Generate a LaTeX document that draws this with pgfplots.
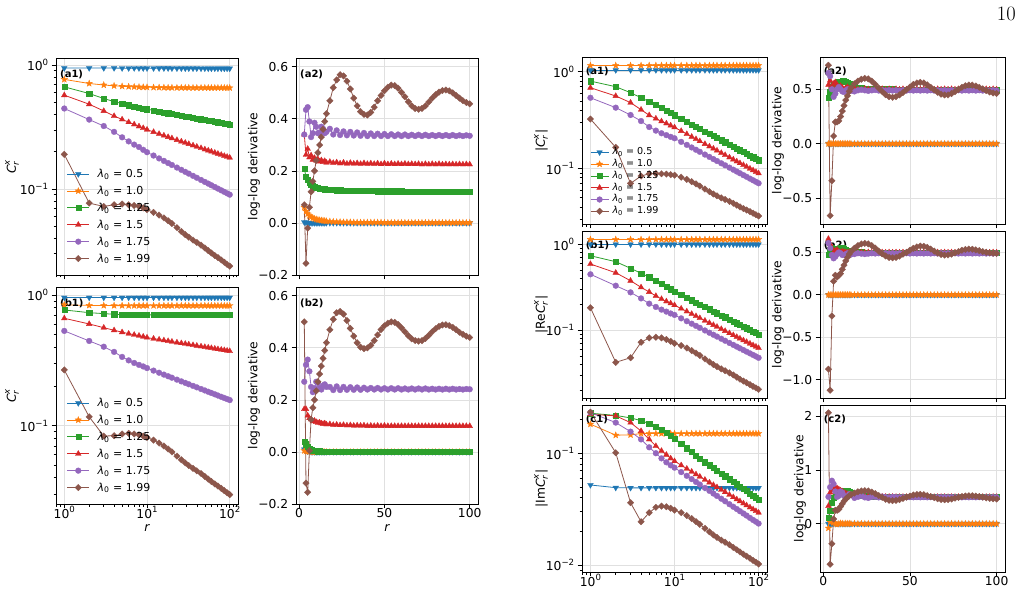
\documentclass[border=0pt]{standalone}
\usepackage{amsmath}
\usepackage{fontspec}
\usepackage{pgfplots}
\usepackage{pgfplotstable}
\pgfplotsset{compat=1.18}
\usetikzlibrary{plotmarks}
\newfontfamily\dv{DejaVu Sans}[ItalicFont={DejaVu Sans Oblique},BoldFont={DejaVu Sans Bold}]
\definecolor{c0}{HTML}{1F77B4}
\definecolor{c1}{HTML}{FF7F0E}
\definecolor{c2}{HTML}{2CA02C}
\definecolor{c3}{HTML}{D62728}
\definecolor{c4}{HTML}{9467BD}
\definecolor{c5}{HTML}{8C564B}
\newcommand\tkf{\dv\fontsize{12.3}{14}\selectfont}
\newcommand\lgf{\dv\fontsize{11}{13}\selectfont}
\newcommand\lgs{\dv\fontsize{9.6}{11}\selectfont}
\newcommand\pnf{\dv\bfseries\fontsize{10}{11}\selectfont}
\newcommand\tpow[1]{10\raisebox{0.45em}{\fontsize{8.6}{9}\selectfont #1}}
\newcommand\lam[2]{{#1{\itshape λ}\textsubscript{0} = #2}}
\newcommand\Crx{$\text{\itshape C}^{\text{\itshape x}}_{\text{\itshape r}}$}
\pgfdeclareplotmark{fstar}{%
  \pgfpathmoveto{\pgfpointpolar{90}{\pgfplotmarksize}}%
  \pgfpathlineto{\pgfpointpolar{126}{0.42\pgfplotmarksize}}%
  \pgfpathlineto{\pgfpointpolar{162}{\pgfplotmarksize}}%
  \pgfpathlineto{\pgfpointpolar{198}{0.42\pgfplotmarksize}}%
  \pgfpathlineto{\pgfpointpolar{234}{\pgfplotmarksize}}%
  \pgfpathlineto{\pgfpointpolar{270}{0.42\pgfplotmarksize}}%
  \pgfpathlineto{\pgfpointpolar{306}{\pgfplotmarksize}}%
  \pgfpathlineto{\pgfpointpolar{342}{0.42\pgfplotmarksize}}%
  \pgfpathlineto{\pgfpointpolar{18}{\pgfplotmarksize}}%
  \pgfpathlineto{\pgfpointpolar{54}{0.42\pgfplotmarksize}}%
  \pgfpathclose\pgfusepathqfillstroke}
\pgfplotsset{
  mySb/.style={color=c0, line width=0.8pt, mark=triangle*, mark size=3.3pt, mark options={solid, rotate=180, line width=0.3pt}},
  mySo/.style={color=c1, line width=0.8pt, mark=fstar, mark size=3.4pt, mark options={solid, line width=0.3pt}},
  mySg/.style={color=c2, line width=0.8pt, mark=square*, mark size=2.6pt, mark options={solid, line width=0.3pt}},
  mySr/.style={color=c3, line width=0.8pt, mark=triangle*, mark size=3.3pt, mark options={solid, line width=0.3pt}},
  mySp/.style={color=c4, line width=0.8pt, mark=*, mark size=2.9pt, mark options={solid, line width=0.3pt}},
  mySd/.style={color=c5, line width=0.8pt, mark=square*, mark size=2.3pt, mark options={solid, rotate=45, line width=0.3pt}},
  myBase/.style={scale only axis, axis line style={line width=0.9pt, black},
    tick align=outside, xtick pos=left, ytick pos=left,
    major tick length=4.3pt, minor tick length=2.5pt,
    every tick/.style={black, line width=0.8pt},
    every minor tick/.style={black, line width=0.6pt},
    grid=major, major grid style={line width=0.8pt, black!12},
    tick label style={font=\tkf}, label style={font=\tkf},
    legend cell align=left},
  myLogX/.style={xmin=0.794, xmax=125.9, xtick={1,10,100},
    minor xtick={0.8,0.9,2,3,4,5,6,7,8,9,20,30,40,50,60,70,80,90,110,120},
    xticklabel style={yshift=5.5pt}},
  myLinX/.style={xmin=-1.85, xmax=104.85, xtick={0,50,100}, xticklabel style={yshift=3pt}},
  myLegL/.style={legend image code/.code={\draw[mark repeat=2,mark phase=2,##1] plot coordinates {(0pt,0pt) (11pt,0pt) (22pt,0pt)};},
    legend style={at={(axis description cs:0,1)}, anchor=north west, xshift=10.7pt, yshift=-107.4pt,
      draw=none, fill=none, inner sep=0pt, column sep=8pt, row sep=0pt,
      nodes={inner sep=0pt, text height=11.9pt, text depth=5pt}}},
  myLegR/.style={legend image code/.code={\draw[mark repeat=2,mark phase=2,##1] plot coordinates {(0pt,0pt) (9pt,0pt) (18pt,0pt)};},
    legend style={at={(axis description cs:0,1)}, anchor=north west, xshift=8pt, yshift=-89.2pt,
      draw=none, fill=none, inner sep=0pt, column sep=3.5pt, row sep=0pt,
      nodes={inner sep=0pt, text height=8.3pt, text depth=3.5pt}}},
}
\newcommand\six[1]{%
  \addplot[mySb] table[x=r,y=b]{#1};
  \addplot[mySo] table[x=r,y=o]{#1};
  \addplot[mySg] table[x=r,y=g]{#1};
  \addplot[mySr] table[x=r,y=rd]{#1};
  \addplot[mySp] table[x=r,y=p]{#1};
  \addplot[mySd] table[x=r,y=br]{#1};}
\newcommand\leg[1]{\legend{\lam{#1}{0.5},\lam{#1}{1.0},\lam{#1}{1.25},\lam{#1}{1.5},\lam{#1}{1.75},\lam{#1}{1.99}}}

\pgfplotstableread{
r b o g rd p br
1 0.945 0.766 0.667 0.571 0.446 0.190
2 0.945 0.710 0.589 0.483 0.363 0.0769
3 0.945 0.690 0.537 0.426 0.322 0.0722
4 0.945 0.680 0.507 0.388 0.289 0.0746
5 0.944 0.674 0.489 0.364 0.261 0.0755
6 0.944 0.670 0.475 0.346 0.242 0.0745
7 0.944 0.667 0.464 0.332 0.228 0.0735
8 0.944 0.665 0.455 0.320 0.218 0.0722
9 0.943 0.663 0.448 0.310 0.207 0.0703
10 0.943 0.662 0.441 0.301 0.198 0.0680
12 0.943 0.660 0.4304 0.2884 0.1860 0.0647
14 0.942 0.659 0.4218 0.2783 0.1764 0.0615
16 0.942 0.658 0.4146 0.2699 0.1685 0.0584
18 0.942 0.657 0.4086 0.2628 0.1618 0.0554
20 0.941 0.657 0.4033 0.2565 0.1561 0.0526
23 0.941 0.656 0.3964 0.2485 0.1488 0.0487
26 0.941 0.656 0.3906 0.2416 0.1427 0.0454
29 0.940 0.656 0.3854 0.2359 0.1374 0.0428
32 0.940 0.656 0.3809 0.2306 0.1329 0.0408
36 0.940 0.655 0.3755 0.2246 0.1276 0.0387
40 0.940 0.655 0.3709 0.2194 0.1231 0.0370
45 0.939 0.655 0.3657 0.2137 0.1182 0.0352
50 0.939 0.655 0.3611 0.2087 0.1140 0.0334
55 0.939 0.655 0.3570 0.2043 0.1104 0.0318
60 0.939 0.655 0.3533 0.2004 0.1071 0.0304
66 0.939 0.655 0.3494 0.1962 0.1037 0.0290
72 0.938 0.655 0.3458 0.1924 0.1006 0.0279
79 0.938 0.655 0.3421 0.1885 0.0975 0.0267
86 0.938 0.655 0.3387 0.1849 0.0947 0.0256
93 0.938 0.655 0.3356 0.1817 0.0922 0.0246
100 0.938 0.655 0.3327 0.1789 0.0899 0.0238
}\tLA

\pgfplotstableread{
r b o g rd p br
1 0.955 0.840 0.768 0.663 0.531 0.267
2 0.955 0.832 0.732 0.600 0.445 0.117
3 0.955 0.830 0.720 0.562 0.402 0.0834
4 0.955 0.829 0.712 0.537 0.367 0.0839
5 0.955 0.829 0.708 0.519 0.336 0.0865
6 0.955 0.828 0.706 0.506 0.316 0.0875
7 0.955 0.828 0.705 0.496 0.302 0.0865
8 0.955 0.828 0.704 0.488 0.292 0.0850
9 0.955 0.828 0.704 0.480 0.284 0.0833
10 0.955 0.828 0.704 0.472 0.276 0.0815
12 0.955 0.828 0.704 0.4632 0.2639 0.0776
14 0.955 0.828 0.704 0.4559 0.2542 0.0737
16 0.955 0.828 0.704 0.4497 0.2460 0.0700
18 0.955 0.828 0.704 0.4443 0.2390 0.0664
20 0.955 0.828 0.704 0.4395 0.2329 0.0631
23 0.955 0.828 0.704 0.4332 0.2251 0.0586
26 0.955 0.828 0.704 0.4278 0.2184 0.0549
29 0.955 0.828 0.704 0.4230 0.2127 0.0519
32 0.955 0.828 0.704 0.4187 0.2076 0.0496
36 0.955 0.828 0.704 0.4137 0.2017 0.0472
40 0.955 0.828 0.704 0.4092 0.1966 0.0452
45 0.955 0.828 0.704 0.4043 0.1910 0.0431
50 0.955 0.828 0.704 0.3999 0.1861 0.0410
55 0.955 0.828 0.704 0.3960 0.1818 0.0391
60 0.955 0.828 0.704 0.3925 0.1780 0.0375
66 0.955 0.828 0.704 0.3886 0.1739 0.0359
72 0.955 0.828 0.704 0.3852 0.1702 0.0346
79 0.955 0.828 0.704 0.3815 0.1664 0.0332
86 0.955 0.828 0.704 0.3782 0.1630 0.0319
93 0.955 0.828 0.704 0.3752 0.1599 0.0307
100 0.955 0.828 0.704 0.3724 0.1571 0.0297
}\tLB

\pgfplotstableread{
r b o g rd p br
1 1.04 1.16 0.800 0.683 0.538 0.324
2 1.04 1.16 0.700 0.561 0.425 0.165
3 1.04 1.16 0.607 0.479 0.357 0.0700
4 1.04 1.16 0.538 0.405 0.309 0.0834
5 1.04 1.16 0.490 0.355 0.268 0.0880
6 1.04 1.16 0.453 0.328 0.246 0.0885
7 1.04 1.16 0.422 0.307 0.231 0.0880
8 1.04 1.16 0.397 0.292 0.221 0.0873
9 1.04 1.16 0.375 0.278 0.212 0.0862
10 1.04 1.16 0.356 0.266 0.205 0.0850
12 1.04 1.16 0.3271 0.2439 0.1883 0.0811
14 1.04 1.16 0.3044 0.2266 0.1753 0.0770
16 1.04 1.16 0.2861 0.2126 0.1647 0.0729
18 1.04 1.16 0.2708 0.2010 0.1559 0.0691
20 1.04 1.16 0.2579 0.1912 0.1485 0.0657
23 1.04 1.16 0.2416 0.1789 0.1391 0.0612
26 1.04 1.16 0.2283 0.1688 0.1315 0.0575
29 1.04 1.16 0.2170 0.1603 0.1249 0.0544
32 1.04 1.16 0.2073 0.1530 0.1194 0.0521
36 1.04 1.16 0.1962 0.1446 0.1130 0.0496
40 1.04 1.16 0.1869 0.1375 0.1076 0.0477
45 1.04 1.16 0.1769 0.1300 0.1019 0.0456
50 1.04 1.16 0.1684 0.1237 0.0970 0.0436
55 1.04 1.16 0.1611 0.1182 0.0928 0.0417
60 1.04 1.16 0.1547 0.1134 0.0891 0.0400
66 1.04 1.16 0.1480 0.1084 0.0852 0.0384
72 1.04 1.16 0.1422 0.1040 0.0819 0.0371
79 1.04 1.16 0.1362 0.0995 0.0784 0.0357
86 1.04 1.16 0.1309 0.0956 0.0754 0.0344
93 1.04 1.16 0.1262 0.0921 0.0727 0.0332
100 1.04 1.16 0.1220 0.0889 0.0702 0.0322
}\tRA

\pgfplotstableread{
r b o g rd p br
1 1.0 1.14 0.736 0.589 0.447 0.182
2 1.0 1.14 0.627 0.466 0.329 0.042
3 1.0 1.14 0.525 0.376 0.275 0.0475
4 1.0 1.14 0.459 0.315 0.234 0.072
5 1.0 1.14 0.415 0.278 0.203 0.081
6 1.0 1.14 0.378 0.250 0.186 0.0825
7 1.0 1.14 0.347 0.230 0.173 0.081
8 1.0 1.14 0.322 0.216 0.164 0.0775
9 1.0 1.14 0.300 0.205 0.156 0.0738
10 1.0 1.14 0.282 0.195 0.150 0.0700
12 1.0 1.14 0.2574 0.1780 0.1369 0.0659
14 1.0 1.14 0.2383 0.1648 0.1268 0.0617
16 1.0 1.14 0.2229 0.1542 0.1186 0.0575
18 1.0 1.14 0.2102 0.1454 0.1118 0.0537
20 1.0 1.14 0.1994 0.1379 0.1061 0.0504
23 1.0 1.14 0.1860 0.1286 0.0989 0.0460
26 1.0 1.14 0.1749 0.1209 0.0930 0.0425
29 1.0 1.14 0.1656 0.1145 0.0881 0.0396
32 1.0 1.14 0.1576 0.1090 0.0839 0.0374
36 1.0 1.14 0.1486 0.1028 0.0791 0.0352
40 1.0 1.14 0.1410 0.0975 0.0750 0.0335
45 1.0 1.14 0.1329 0.0919 0.0707 0.0316
50 1.0 1.14 0.1261 0.0872 0.0671 0.0299
55 1.0 1.14 0.1202 0.0831 0.0640 0.0282
60 1.0 1.14 0.1151 0.0796 0.0612 0.0267
66 1.0 1.14 0.1098 0.0759 0.0584 0.0254
72 1.0 1.14 0.1051 0.0727 0.0559 0.0243
79 1.0 1.14 0.1003 0.0694 0.0534 0.0231
86 1.0 1.14 0.0962 0.0665 0.0512 0.0220
93 1.0 1.14 0.0925 0.0640 0.0492 0.0211
100 1.0 1.14 0.0892 0.0617 0.0474 0.0203
}\tRB

\pgfplotstableread{
r b o g rd p br
1 0.052 0.182 0.228 0.223 0.231 0.233
2 0.0492 0.145 0.218 0.216 0.188 0.101
3 0.049 0.146 0.207 0.188 0.156 0.0361
4 0.049 0.150 0.196 0.158 0.133 0.0244
5 0.049 0.150 0.184 0.133 0.113 0.0294
6 0.049 0.150 0.173 0.116 0.100 0.0328
7 0.049 0.150 0.162 0.105 0.090 0.0337
8 0.049 0.150 0.153 0.097 0.083 0.0332
9 0.049 0.150 0.144 0.090 0.078 0.0322
10 0.049 0.150 0.136 0.085 0.0743 0.0310
12 0.049 0.150 0.1219 0.0781 0.0678 0.0294
14 0.049 0.150 0.1111 0.0728 0.0628 0.0277
16 0.049 0.150 0.1026 0.0684 0.0587 0.0260
18 0.049 0.150 0.0956 0.0648 0.0554 0.0245
20 0.049 0.150 0.0897 0.0618 0.0525 0.0231
23 0.049 0.150 0.0834 0.0579 0.0490 0.0213
26 0.049 0.150 0.0782 0.0547 0.0461 0.0198
29 0.049 0.150 0.0739 0.0520 0.0436 0.0186
32 0.049 0.150 0.0702 0.0497 0.0415 0.0177
36 0.049 0.150 0.0660 0.0471 0.0392 0.0167
40 0.049 0.150 0.0625 0.0449 0.0372 0.0160
45 0.049 0.150 0.0587 0.0425 0.0350 0.0152
50 0.049 0.150 0.0556 0.0405 0.0332 0.0144
55 0.049 0.150 0.0529 0.0387 0.0317 0.0137
60 0.049 0.150 0.0506 0.0372 0.0303 0.0131
66 0.049 0.150 0.0481 0.0356 0.0289 0.0125
72 0.049 0.150 0.0460 0.0342 0.0277 0.0120
79 0.049 0.150 0.0438 0.0328 0.0264 0.0115
86 0.049 0.150 0.0419 0.0315 0.0253 0.0110
93 0.049 0.150 0.0402 0.0304 0.0244 0.0106
100 0.049 0.150 0.0387 0.0294 0.0235 0.0102
}\tRC

\pgfplotstableread{
r b o g rd p br
3 0.003 0.060 0.210 0.340 0.340 0.070
4 0.002 0.045 0.178 0.262 0.435 -0.155
5 0.001 0.035 0.165 0.285 0.445 -0.020
6 0 0.028 0.155 0.252 0.390 0.060
7 0 0.023 0.148 0.260 0.330 0.120
8 0 0.019 0.143 0.243 0.345 0.160
9 0 0.016 0.140 0.250 0.385 0.200
10 0 0.014 0.137 0.240 0.370 0.240
11 0 0.012 0.135 0.245 0.345 0.270
12 0 0.011 0.133 0.236 0.348 0.300
13 0 0.010 0.132 0.241 0.370 0.330
14 0 0.009 0.131 0.234 0.362 0.360
15 0 0.008 0.130 0.238 0.345 0.390
16 0 0.007 0.129 0.232 0.350 0.420
18 0 0.006 0.128 0.235 0.362 0.470
20 0 0.005 0.127 0.231 0.340 0.520
22 0 0.004 0.126 0.233 0.356 0.550
24 0 0.004 0.126 0.229 0.338 0.570
26 0 0.003 0.125 0.232 0.352 0.565
28 0 0.003 0.125 0.228 0.337 0.545
30 0 0.003 0.124 0.231 0.350 0.515
32 0 0.002 0.124 0.228 0.336 0.480
34 0 0.002 0.124 0.230 0.348 0.450
36 0 0.002 0.123 0.227 0.335 0.428
38 0 0.002 0.123 0.230 0.346 0.417
40 0 0.002 0.123 0.227 0.334 0.415
42 0 0.002 0.123 0.229 0.344 0.425
44 0 0.002 0.123 0.227 0.334 0.445
46 0 0.002 0.122 0.229 0.343 0.470
48 0 0.002 0.122 0.226 0.334 0.490
50 0 0.001 0.122 0.229 0.342 0.508
52 0 0.001 0.122 0.226 0.334 0.522
54 0 0.001 0.122 0.228 0.341 0.530
56 0 0.001 0.122 0.226 0.334 0.528
58 0 0.001 0.122 0.228 0.340 0.518
60 0 0.001 0.122 0.226 0.334 0.502
62 0 0.001 0.121 0.228 0.340 0.485
64 0 0.001 0.121 0.226 0.334 0.466
66 0 0.001 0.121 0.227 0.339 0.450
68 0 0.001 0.121 0.226 0.334 0.440
70 0 0.001 0.121 0.227 0.339 0.437
72 0 0.001 0.121 0.225 0.334 0.440
74 0 0.001 0.121 0.227 0.339 0.450
76 0 0.001 0.121 0.225 0.334 0.465
78 0 0.001 0.121 0.227 0.338 0.480
80 0 0.001 0.121 0.225 0.334 0.493
82 0 0.001 0.121 0.227 0.338 0.503
84 0 0.001 0.121 0.225 0.334 0.509
86 0 0.001 0.121 0.226 0.338 0.511
88 0 0.001 0.121 0.225 0.334 0.508
90 0 0.001 0.121 0.226 0.338 0.500
92 0 0.001 0.121 0.225 0.334 0.490
94 0 0.001 0.121 0.226 0.337 0.480
96 0 0.001 0.121 0.225 0.334 0.470
98 0 0.001 0.121 0.226 0.337 0.463
100 0 0.001 0.121 0.225 0.335 0.458
}\tLAd

\pgfplotstableread{
r b o g rd p br
3 0.010 0.005 0.040 0.165 0.270 0.500
4 0.005 0.003 0.030 0.165 0.335 -0.120
5 0.002 0.002 0.020 0.140 0.355 -0.155
6 0.001 0.001 0.012 0.130 0.310 0.005
7 0 0.001 0.008 0.125 0.250 0.125
8 0 0 0.006 0.118 0.230 0.170
9 0 0 0.005 0.120 0.245 0.200
10 0 0 0.004 0.115 0.270 0.235
11 0 0 0.003 0.112 0.265 0.270
12 0 0 0.003 0.113 0.245 0.300
13 0 0 0.002 0.110 0.240 0.330
14 0 0 0.002 0.108 0.255 0.360
15 0 0 0.002 0.110 0.260 0.390
16 0 0 0.002 0.106 0.250 0.420
18 0 0 0.001 0.107 0.250 0.470
20 0 0 0.001 0.104 0.238 0.510
22 0 0 0.001 0.105 0.252 0.535
24 0 0 0.001 0.103 0.238 0.540
26 0 0 0 0.104 0.250 0.530
28 0 0 0 0.102 0.239 0.505
30 0 0 0 0.103 0.249 0.475
32 0 0 0 0.101 0.239 0.445
34 0 0 0 0.102 0.248 0.420
36 0 0 0 0.101 0.239 0.403
38 0 0 0 0.102 0.247 0.397
40 0 0 0 0.100 0.240 0.400
42 0 0 0 0.101 0.246 0.410
44 0 0 0 0.100 0.240 0.428
46 0 0 0 0.101 0.246 0.450
48 0 0 0 0.100 0.240 0.470
50 0 0 0 0.101 0.245 0.485
52 0 0 0 0.100 0.240 0.495
54 0 0 0 0.100 0.245 0.500
56 0 0 0 0.100 0.240 0.498
58 0 0 0 0.100 0.245 0.490
60 0 0 0 0.100 0.240 0.477
62 0 0 0 0.100 0.244 0.462
64 0 0 0 0.100 0.240 0.447
66 0 0 0 0.100 0.244 0.435
68 0 0 0 0.100 0.240 0.428
70 0 0 0 0.100 0.244 0.426
72 0 0 0 0.100 0.240 0.428
74 0 0 0 0.100 0.244 0.436
76 0 0 0 0.100 0.240 0.448
78 0 0 0 0.100 0.243 0.462
80 0 0 0 0.100 0.240 0.474
82 0 0 0 0.100 0.243 0.483
84 0 0 0 0.100 0.240 0.488
86 0 0 0 0.100 0.243 0.489
88 0 0 0 0.100 0.240 0.486
90 0 0 0 0.100 0.243 0.479
92 0 0 0 0.100 0.240 0.470
94 0 0 0 0.100 0.242 0.460
96 0 0 0 0.100 0.240 0.452
98 0 0 0 0.100 0.242 0.445
100 0 0 0 0.100 0.241 0.440
}\tLBd

\pgfplotstableread{
r b o g rd p br
3 0 0 0.420 0.540 0.650 0.720
4 0 0 0.480 0.580 0.620 -0.660
5 0 0 0.520 0.520 0.500 -0.340
6 0 0 0.540 0.550 0.430 0.070
7 0 0 0.550 0.565 0.460 0.200
8 0 0 0.560 0.540 0.500 0.200
9 0 0 0.565 0.520 0.520 0.210
10 0 0 0.570 0.530 0.500 0.250
11 0 0 0.575 0.515 0.480 0.300
12 0 0 0.575 0.500 0.475 0.350
13 0 0 0.570 0.510 0.490 0.400
14 0 0 0.560 0.520 0.500 0.440
15 0 0 0.550 0.505 0.495 0.480
16 0 0 0.540 0.495 0.485 0.510
18 0 0 0.525 0.510 0.480 0.550
20 0 0 0.515 0.500 0.490 0.575
22 0 0 0.510 0.495 0.495 0.592
24 0 0 0.508 0.505 0.490 0.600
26 0 0 0.505 0.500 0.485 0.595
28 0 0 0.503 0.496 0.490 0.575
30 0 0 0.503 0.503 0.493 0.545
32 0 0 0.502 0.498 0.488 0.510
34 0 0 0.502 0.503 0.492 0.478
36 0 0 0.501 0.498 0.488 0.450
38 0 0 0.501 0.502 0.492 0.432
40 0 0 0.501 0.498 0.488 0.426
42 0 0 0.500 0.502 0.491 0.432
44 0 0 0.500 0.498 0.488 0.448
46 0 0 0.500 0.502 0.491 0.470
48 0 0 0.500 0.498 0.488 0.495
50 0 0 0.500 0.502 0.491 0.520
52 0 0 0.500 0.498 0.488 0.545
54 0 0 0.500 0.502 0.491 0.558
56 0 0 0.500 0.498 0.488 0.563
58 0 0 0.500 0.502 0.491 0.558
60 0 0 0.500 0.498 0.488 0.540
62 0 0 0.500 0.502 0.491 0.518
64 0 0 0.500 0.498 0.488 0.495
66 0 0 0.500 0.502 0.491 0.472
68 0 0 0.500 0.498 0.488 0.455
70 0 0 0.500 0.502 0.491 0.448
72 0 0 0.500 0.498 0.488 0.448
74 0 0 0.500 0.502 0.491 0.460
76 0 0 0.500 0.498 0.488 0.478
78 0 0 0.500 0.502 0.491 0.498
80 0 0 0.500 0.498 0.488 0.518
82 0 0 0.500 0.502 0.491 0.532
84 0 0 0.500 0.498 0.488 0.539
86 0 0 0.500 0.502 0.491 0.538
88 0 0 0.500 0.498 0.488 0.530
90 0 0 0.500 0.502 0.491 0.518
92 0 0 0.500 0.498 0.488 0.503
94 0 0 0.500 0.502 0.491 0.488
96 0 0 0.500 0.498 0.488 0.475
98 0 0 0.500 0.502 0.491 0.466
100 0 0 0.500 0.498 0.488 0.462
}\tRAd

\pgfplotstableread{
r b o g rd p br
3 0 0 0.470 0.660 0.610 -0.876
4 0 0 0.530 0.600 0.550 -1.124
5 0 0 0.550 0.550 0.470 -0.250
6 0 0 0.540 0.500 0.430 0.160
7 0 0 0.530 0.520 0.450 0.230
8 0 0 0.530 0.530 0.480 0.210
9 0 0 0.540 0.510 0.500 0.230
10 0 0 0.550 0.500 0.490 0.250
11 0 0 0.550 0.510 0.470 0.300
12 0 0 0.540 0.505 0.470 0.350
13 0 0 0.530 0.500 0.480 0.400
14 0 0 0.520 0.495 0.490 0.440
15 0 0 0.515 0.503 0.485 0.480
16 0 0 0.510 0.498 0.475 0.510
18 0 0 0.505 0.503 0.480 0.550
20 0 0 0.502 0.498 0.490 0.580
22 0 0 0.502 0.502 0.485 0.600
24 0 0 0.501 0.498 0.480 0.606
26 0 0 0.501 0.502 0.485 0.600
28 0 0 0.500 0.499 0.490 0.580
30 0 0 0.500 0.501 0.487 0.550
32 0 0 0.500 0.499 0.490 0.515
34 0 0 0.500 0.501 0.487 0.483
36 0 0 0.500 0.499 0.490 0.458
38 0 0 0.500 0.501 0.487 0.440
40 0 0 0.500 0.499 0.490 0.436
42 0 0 0.500 0.501 0.487 0.440
44 0 0 0.500 0.499 0.490 0.455
46 0 0 0.500 0.501 0.487 0.478
48 0 0 0.500 0.499 0.490 0.500
50 0 0 0.500 0.501 0.487 0.525
52 0 0 0.500 0.499 0.490 0.548
54 0 0 0.500 0.501 0.487 0.565
56 0 0 0.500 0.499 0.490 0.575
58 0 0 0.500 0.501 0.487 0.572
60 0 0 0.500 0.499 0.490 0.560
62 0 0 0.500 0.501 0.487 0.540
64 0 0 0.500 0.499 0.490 0.515
66 0 0 0.500 0.501 0.487 0.492
68 0 0 0.500 0.499 0.490 0.476
70 0 0 0.500 0.501 0.487 0.468
72 0 0 0.500 0.499 0.490 0.470
74 0 0 0.500 0.501 0.487 0.480
76 0 0 0.500 0.499 0.490 0.495
78 0 0 0.500 0.501 0.487 0.510
80 0 0 0.500 0.499 0.490 0.525
82 0 0 0.500 0.501 0.487 0.535
84 0 0 0.500 0.499 0.490 0.539
86 0 0 0.500 0.501 0.487 0.537
88 0 0 0.500 0.499 0.490 0.530
90 0 0 0.500 0.501 0.487 0.520
92 0 0 0.500 0.499 0.490 0.510
94 0 0 0.500 0.501 0.487 0.500
96 0 0 0.500 0.499 0.490 0.494
98 0 0 0.500 0.501 0.487 0.490
100 0 0 0.500 0.499 0.490 0.488
}\tRBd

\pgfplotstableread{
r b o g rd p br
3 0 -0.080 0.120 0.330 0.500 2.060
4 0 0.030 0.250 0.580 0.680 -0.750
5 0 0.060 0.400 0.620 0.800 -0.370
6 0 0.020 0.480 0.650 0.740 0.090
7 0 0.000 0.530 0.670 0.600 0.250
8 0 -0.010 0.560 0.660 0.500 0.250
9 0 0.000 0.580 0.640 0.520 0.270
10 0 0.010 0.600 0.620 0.600 0.320
11 0 0.005 0.610 0.600 0.580 0.370
12 0 -0.005 0.620 0.580 0.520 0.420
13 0 0.005 0.620 0.565 0.480 0.460
14 0 0.000 0.615 0.550 0.500 0.490
15 0 0.005 0.600 0.540 0.550 0.520
16 0 0.000 0.585 0.535 0.540 0.540
18 0 0.004 0.560 0.525 0.480 0.570
20 0 0.000 0.540 0.520 0.500 0.595
22 0 0.003 0.530 0.515 0.520 0.610
24 0 0.000 0.520 0.512 0.490 0.615
26 0 0.003 0.515 0.510 0.480 0.610
28 0 0.000 0.510 0.508 0.500 0.590
30 0 0.002 0.505 0.506 0.500 0.560
32 0 0.000 0.505 0.505 0.490 0.525
34 0 0.002 0.503 0.504 0.505 0.490
36 0 0.000 0.503 0.503 0.495 0.455
38 0 0.002 0.502 0.502 0.490 0.435
40 0 0.000 0.502 0.502 0.500 0.430
42 0 0.002 0.501 0.501 0.495 0.435
44 0 0.000 0.500 0.500 0.492 0.450
46 0 0.002 0.501 0.501 0.495 0.470
48 0 0.000 0.500 0.500 0.492 0.495
50 0 0.002 0.501 0.501 0.495 0.515
52 0 0.000 0.500 0.500 0.492 0.535
54 0 0.002 0.501 0.501 0.495 0.545
56 0 0.000 0.500 0.500 0.492 0.546
58 0 0.002 0.501 0.501 0.495 0.540
60 0 0.000 0.500 0.500 0.492 0.525
62 0 0.002 0.501 0.501 0.495 0.505
64 0 0.000 0.500 0.500 0.492 0.485
66 0 0.002 0.501 0.501 0.495 0.465
68 0 0.000 0.500 0.500 0.492 0.452
70 0 0.002 0.501 0.501 0.495 0.447
72 0 0.000 0.500 0.500 0.492 0.450
74 0 0.002 0.501 0.501 0.495 0.460
76 0 0.000 0.500 0.500 0.492 0.475
78 0 0.002 0.501 0.501 0.495 0.490
80 0 0.000 0.500 0.500 0.492 0.505
82 0 0.002 0.501 0.501 0.495 0.515
84 0 0.000 0.500 0.500 0.492 0.520
86 0 0.002 0.501 0.501 0.495 0.520
88 0 0.000 0.500 0.500 0.492 0.514
90 0 0.002 0.501 0.501 0.495 0.505
92 0 0.000 0.500 0.500 0.492 0.494
94 0 0.002 0.501 0.501 0.495 0.482
96 0 0.000 0.500 0.500 0.492 0.472
98 0 0.002 0.501 0.501 0.495 0.465
100 0 0.000 0.500 0.500 0.492 0.460
}\tRCd

\begin{document}
\begin{tikzpicture}
\useasboundingbox (0pt,0pt) rectangle (1022pt,-590pt);
\node[anchor=base east, font=\fontsize{20.5}{24}\selectfont, inner sep=0pt] at (1016pt,-20.7pt) {10};

% ---------- left group ----------
\begin{axis}[xmode=log, ymode=log, myBase, myLogX, myLegL, at={(56pt,-275pt)}, anchor=south west, width=182pt, height=217pt,
  ymin=0.0202, ymax=1.14, ytick={0.1,1}, yticklabels={\tpow{−1},\tpow{0}},
  minor ytick={0.03,0.04,0.05,0.06,0.07,0.08,0.09,0.2,0.3,0.4,0.5,0.6,0.7,0.8,0.9},
  xticklabels={,,}, ylabel={\Crx}, ylabel style={at={(axis description cs:-0.2418,0.5)}, anchor=center}]
\six{\tLA}
\leg{\lgf}
\node[anchor=west, font=\pnf, inner sep=0pt, xshift=4pt, yshift=-16.3pt] at (rel axis cs:0,1) {(a1)};
\end{axis}

\begin{axis}[myBase, myLinX, at={(296pt,-275pt)}, anchor=south west, width=182pt, height=217pt,
  ymin=-0.2, ymax=0.634, ytick={-0.2,0,0.2,0.4,0.6}, yticklabels={−0.2,0.0,0.2,0.4,0.6},
  xticklabels={,,}, ylabel={log-log derivative}, ylabel style={at={(axis description cs:-0.2308,0.5)}, anchor=center}]
\six{\tLAd}
\node[anchor=west, font=\pnf, inner sep=0pt, xshift=4pt, yshift=-16.3pt] at (rel axis cs:0,1) {(a2)};
\end{axis}

\begin{axis}[xmode=log, ymode=log, myBase, myLogX, myLegL, at={(56pt,-504pt)}, anchor=south west, width=182pt, height=217pt,
  ymin=0.0252, ymax=1.15, ytick={0.1,1}, yticklabels={\tpow{−1},\tpow{0}},
  minor ytick={0.03,0.04,0.05,0.06,0.07,0.08,0.09,0.2,0.3,0.4,0.5,0.6,0.7,0.8,0.9},
  xticklabels={\tpow{0},\tpow{1},\tpow{2}},
  xlabel={\itshape r}, xlabel style={at={(axis description cs:0.5,-0.11)}, anchor=center},
  ylabel={\Crx}, ylabel style={at={(axis description cs:-0.2418,0.5)}, anchor=center}]
\six{\tLB}
\leg{\lgf}
\node[anchor=west, font=\pnf, inner sep=0pt, xshift=4pt, yshift=-16.3pt] at (rel axis cs:0,1) {(b1)};
\end{axis}

\begin{axis}[myBase, myLinX, at={(296pt,-504pt)}, anchor=south west, width=182pt, height=217pt,
  ymin=-0.2, ymax=0.634, ytick={-0.2,0,0.2,0.4,0.6}, yticklabels={−0.2,0.0,0.2,0.4,0.6},
  xticklabels={0,50,100},
  xlabel={\itshape r}, xlabel style={at={(axis description cs:0.5,-0.11)}, anchor=center},
  ylabel={log-log derivative}, ylabel style={at={(axis description cs:-0.2308,0.5)}, anchor=center}]
\six{\tLBd}
\node[anchor=west, font=\pnf, inner sep=0pt, xshift=4pt, yshift=-16.3pt] at (rel axis cs:0,1) {(b2)};
\end{axis}

% ---------- right group ----------
\begin{axis}[xmode=log, ymode=log, myBase, myLogX, myLegR, at={(582pt,-224pt)}, anchor=south west, width=185pt, height=167pt,
  ymin=0.0266, ymax=1.42, ytick={0.1,1}, yticklabels={\tpow{−1},\tpow{0}},
  minor ytick={0.03,0.04,0.05,0.06,0.07,0.08,0.09,0.2,0.3,0.4,0.5,0.6,0.7,0.8,0.9},
  xticklabels={,,}, ylabel={|\Crx|}, ylabel style={at={(axis description cs:-0.2216,0.5)}, anchor=center}]
\six{\tRA}
\leg{\lgs}
\node[anchor=west, font=\pnf, inner sep=0pt, xshift=3.7pt, yshift=-14.7pt] at (rel axis cs:0,1) {(a1)};
\end{axis}

\begin{axis}[myBase, myLinX, at={(820pt,-224pt)}, anchor=south west, width=185pt, height=167pt,
  ymin=-0.737, ymax=0.796, ytick={-0.5,0,0.5}, yticklabels={−0.5,0.0,0.5},
  xticklabels={,,}, ylabel={log-log derivative}, ylabel style={at={(axis description cs:-0.227,0.5)}, anchor=center}]
\six{\tRAd}
\node[anchor=west, font=\pnf, inner sep=0pt, xshift=3.7pt, yshift=-14.7pt] at (rel axis cs:0,1) {(a2)};
\end{axis}

\begin{axis}[xmode=log, ymode=log, myBase, myLogX, at={(582pt,-398pt)}, anchor=south west, width=185pt, height=167pt,
  ymin=0.0161, ymax=1.43, ytick={0.1,1}, yticklabels={\tpow{−1},\tpow{0}},
  minor ytick={0.02,0.03,0.04,0.05,0.06,0.07,0.08,0.09,0.2,0.3,0.4,0.5,0.6,0.7,0.8,0.9},
  xticklabels={,,}, ylabel={|Re\Crx|}, ylabel style={at={(axis description cs:-0.2216,0.5)}, anchor=center}]
\six{\tRB}
\node[anchor=west, font=\pnf, inner sep=0pt, xshift=3.7pt, yshift=-14.7pt] at (rel axis cs:0,1) {(b1)};
\end{axis}

\begin{axis}[myBase, myLinX, at={(820pt,-398pt)}, anchor=south west, width=185pt, height=167pt,
  ymin=-1.216, ymax=0.752, ytick={-1,-0.5,0,0.5}, yticklabels={−1.0,−0.5,0.0,0.5},
  xticklabels={,,}, ylabel={log-log derivative}, ylabel style={at={(axis description cs:-0.227,0.5)}, anchor=center}]
\six{\tRBd}
\node[anchor=west, font=\pnf, inner sep=0pt, xshift=3.7pt, yshift=-14.7pt] at (rel axis cs:0,1) {(b2)};
\end{axis}

\begin{axis}[xmode=log, ymode=log, myBase, myLogX, at={(582pt,-572pt)}, anchor=south west, width=185pt, height=167pt,
  ymin=0.00866, ymax=0.27, ytick={0.01,0.1}, yticklabels={\tpow{−2},\tpow{−1}},
  minor ytick={0.009,0.02,0.03,0.04,0.05,0.06,0.07,0.08,0.09,0.2},
  xticklabels={\tpow{0},\tpow{1},\tpow{2}},
  ylabel={|Im\Crx|}, ylabel style={at={(axis description cs:-0.2216,0.5)}, anchor=center}]
\six{\tRC}
\node[anchor=west, font=\pnf, inner sep=0pt, xshift=3.7pt, yshift=-14.7pt] at (rel axis cs:0,1) {(c1)};
\end{axis}

\begin{axis}[myBase, myLinX, at={(820pt,-572pt)}, anchor=south west, width=185pt, height=167pt,
  ymin=-0.895, ymax=2.205, ytick={0,1,2}, yticklabels={0,1,2},
  xticklabels={0,50,100},
  ylabel={log-log derivative}, ylabel style={at={(axis description cs:-0.108,0.5)}, anchor=center}]
\six{\tRCd}
\node[anchor=west, font=\pnf, inner sep=0pt, xshift=3.7pt, yshift=-14.7pt] at (rel axis cs:0,1) {(c2)};
\end{axis}
\end{tikzpicture}
\end{document}
